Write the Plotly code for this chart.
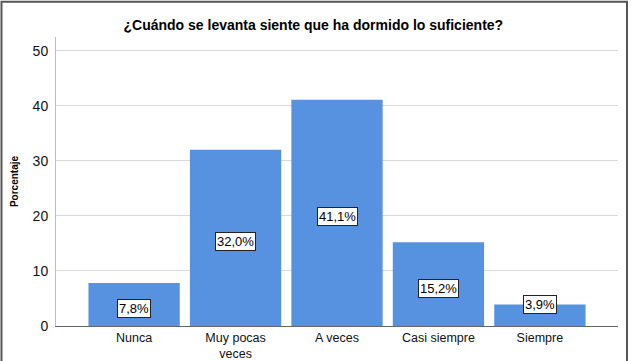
import plotly.graph_objects as go

categories = ["Nunca", "Muy pocas<br>veces", "A veces", "Casi siempre", "Siempre"]
values = [7.8, 32.0, 41.1, 15.2, 3.9]
labels = ["7,8%", "32,0%", "41,1%", "15,2%", "3,9%"]
title_text = "¿Cuándo se levanta siente que ha dormido lo suficiente?"
y_title = "Porcentaje"
y_ticks = [0, 10, 20, 30, 40, 50]

FONT = "Liberation Sans, Arial, sans-serif"
x_idx = list(range(len(categories)))

fig = go.Figure()
fig.add_trace(go.Bar(
    x=x_idx, y=values, marker=dict(color="#5692e0", line=dict(width=0)),
    width=0.9, hoverinfo="skip",
))

for i, (v, lab) in enumerate(zip(values, labels)):
    ly = v / 2 - 0.7
    if ly < 2.5:
        ly = v
    fig.add_annotation(
        x=i, y=ly, xref="x", yref="y", text=lab, showarrow=False,
        font=dict(family=FONT, size=13, color="#000"),
        bgcolor="white", bordercolor="#222", borderwidth=1, borderpad=1,
    )

# outer frame (left, top, right)
fig.add_shape(type="path", xref="paper", yref="paper",
              path="M -0.097,-0.2 L -0.097,1.122 L 1.016,1.122 L 1.016,-0.2",
              line=dict(color="#555555", width=2))

fig.update_layout(
    width=633, height=361,
    margin=dict(l=56, r=15, t=37, b=35, autoexpand=False),
    paper_bgcolor="white", plot_bgcolor="white",
    showlegend=False,
    title=dict(text="<b>" + title_text + "</b>", x=0.495, xref="container", xanchor="center",
               y=1 - 25 / 361, yanchor="middle", yref="container",
               font=dict(family=FONT, size=14, color="#000")),
    xaxis=dict(
        range=[-0.77, 4.77], tickmode="array", tickvals=x_idx, ticktext=categories,
        showgrid=False, zeroline=False, showline=True, linecolor="#666666", linewidth=1,
        ticks="", ticklabelstandoff=0,
        tickfont=dict(family=FONT, size=12.5, color="#111"),
        automargin=False, fixedrange=True,
    ),
    yaxis=dict(
        range=[0, 52.5], tickmode="array", tickvals=y_ticks,
        showgrid=True, gridcolor="#d9d9d9", gridwidth=1, zeroline=False,
        showline=True, linecolor="#bdbdbd", linewidth=1, ticks="",
        ticklabelstandoff=4,
        tickfont=dict(family=FONT, size=14, color="#111"),
        title=dict(text="<b>" + y_title + "</b>", standoff=12,
                   font=dict(family=FONT, size=10, color="#000")),
        automargin=False, fixedrange=True,
    ),
)

fig.write_html("out.html")
